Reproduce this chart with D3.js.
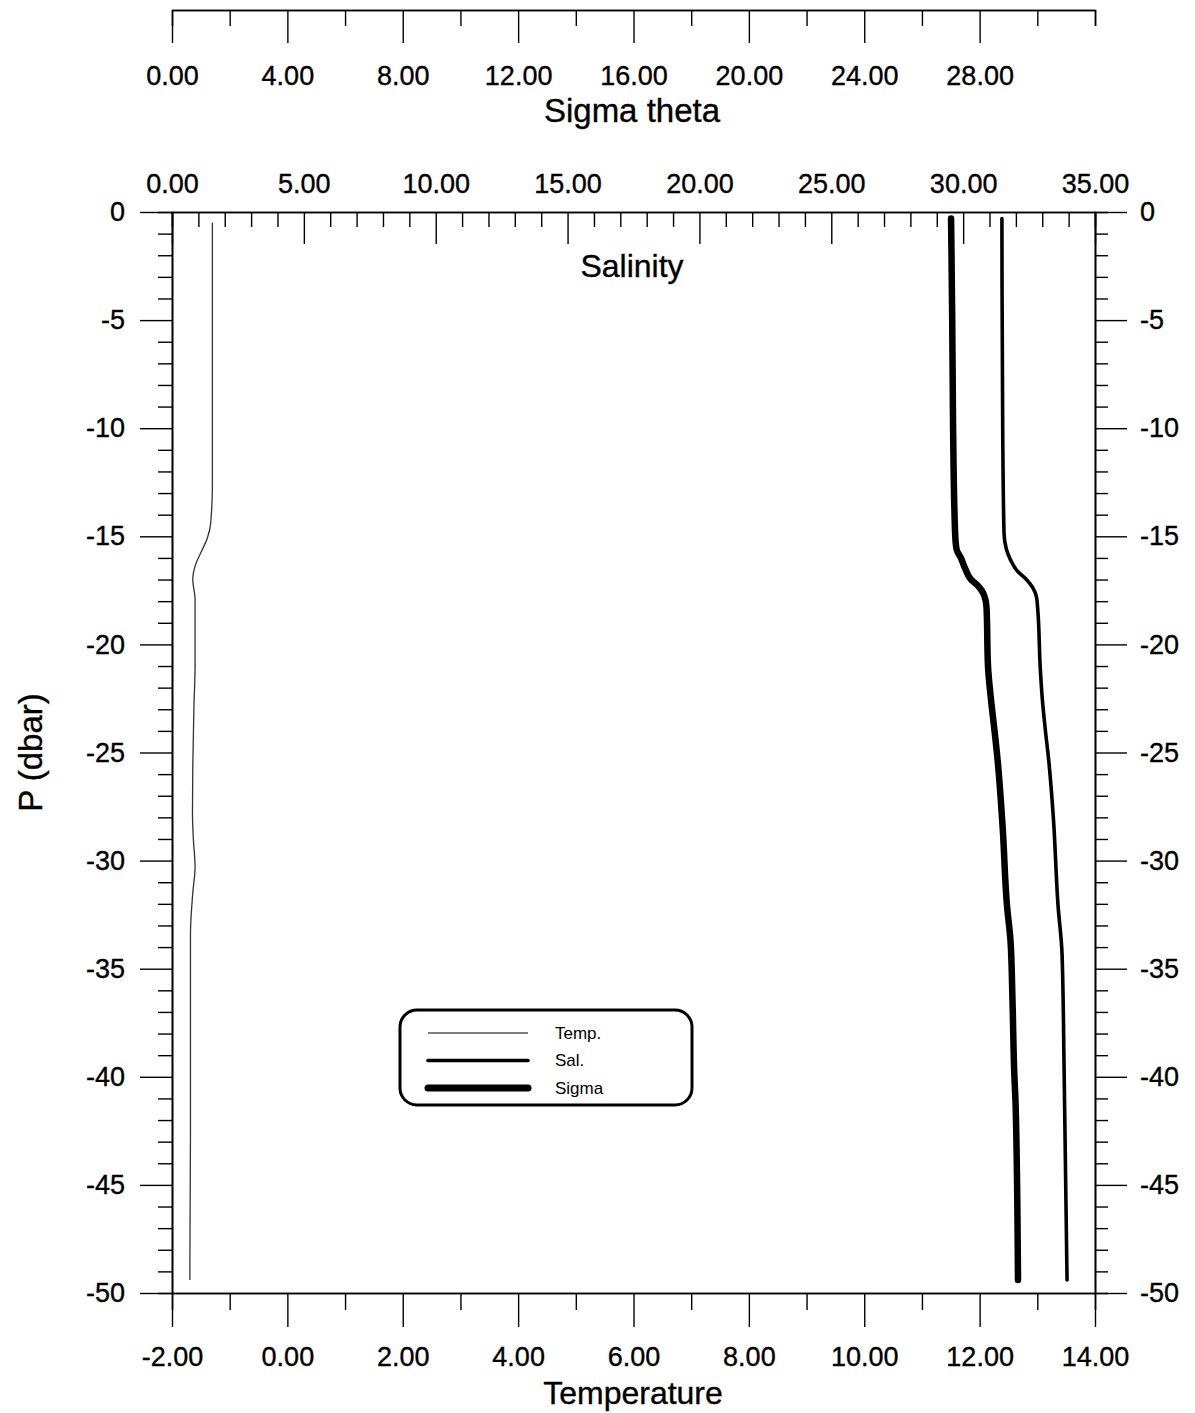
<!DOCTYPE html>
<html>
<head>
<meta charset="utf-8">
<script src="https://cdn.jsdelivr.net/npm/d3@7"></script>
<style>
  body { margin: 0; background: #fff; }
  svg { font-family: "Liberation Sans", Arial, sans-serif; }
  .axis path, .axis line { stroke: #000; }
  .axis text, .lbl { fill: #000; stroke: #000; stroke-width: 0.35px; }
</style>
</head>
<body>
<div id="chart"></div>
<script>
// profile data: pressure (dbar) and value
const tempP  = [-0.5, -12.6, -14.4, -15.1, -15.7, -16.3, -17.0, -17.9, -21.0, -22.9, -25.7, -27.8, -29.0, -30.3, -31.5, -33.4, -36.4, -42.6, -48.8, -49.4];
const tempV  = [-1.30, -1.30, -1.33, -1.39, -1.49, -1.59, -1.64, -1.60, -1.60, -1.62, -1.64, -1.645, -1.63, -1.60, -1.64, -1.68, -1.68, -1.68, -1.69, -1.69];

const salP   = [-0.3, -10, -14.85, -15.6, -16.1, -16.6, -17.0, -17.4, -17.8, -18.4, -21.0, -22.5, -24.0, -25.3, -28.0, -32.1, -34.3, -39.8, -49.4];
const salV   = [31.47, 31.50, 31.55, 31.64, 31.80, 32.05, 32.40, 32.65, 32.78, 32.83, 32.92, 33.00, 33.12, 33.24, 33.42, 33.60, 33.75, 33.83, 33.94];

const sigP   = [-0.3, -5, -10, -14.85, -15.6, -16.0, -16.5, -17.0, -17.3, -17.7, -18.3, -21.0, -22.5, -23.8, -25.3, -28.5, -32.1, -33.7, -36.5, -39.8, -41.4, -49.4];
const sigV   = [27.01, 27.05, 27.08, 27.15, 27.20, 27.35, 27.50, 27.70, 27.95, 28.15, 28.24, 28.29, 28.39, 28.50, 28.62, 28.80, 28.95, 29.07, 29.14, 29.20, 29.25, 29.33];

// axis ticks
const pMajor    = d3.range(0, -51, -5);
const pMinor    = d3.range(0, -51, -1).filter(v => v % 5 !== 0);
const tMajor    = d3.range(-2, 15, 2);
const tMinor    = d3.range(-1, 14, 2);
const sMajor    = d3.range(0, 36, 5);
const sMinor    = d3.range(0, 36, 1).filter(v => v % 5 !== 0);
const sigMajor  = d3.range(0, 29, 4);
const sigMinor  = [2, 6, 10, 14, 18, 22, 26, 30, 32];

const legendItems = ["Temp.", "Sal.", "Sigma"];

const W = 1195, H = 1413;
const plotL = 172, plotR = 1095, plotT = 212, plotB = 1293;

const svg = d3.select("#chart").append("svg")
    .attr("width", W).attr("height", H);

const y   = d3.scaleLinear([0, -50], [plotT, plotB]);
const xT  = d3.scaleLinear([-2, 14], [plotL, plotR]);
const xS  = d3.scaleLinear([0, 35], [plotL, plotR]);
const xSg = d3.scaleLinear([0, 32], [plotL, plotR]);

// plain hyphen for the minus sign, as in the original
const loc = d3.formatLocale({decimal: ".", thousands: ",", grouping: [3], currency: ["", ""], minus: "-"});
const fmt2 = loc.format(".2f");
const fmtI = loc.format("d");

function styleAxis(g, fs) {
    g.attr("class", "axis");
    g.selectAll("path").attr("stroke-width", 1.6);
    g.selectAll("line").attr("stroke-width", 1.4);
    g.selectAll("text").attr("font-size", fs).attr("font-family", null).attr("fill", null);
}

// sigma theta axis (detached, at the very top)
svg.append("g").attr("transform", "translate(0,10)")
    .call(d3.axisBottom(xSg).tickValues(sigMinor).tickSize(16).tickFormat(""))
    .call(g => styleAxis(g, 27));
svg.append("g").attr("transform", "translate(0,10)")
    .call(d3.axisBottom(xSg).tickValues(sigMajor).tickSize(33).tickSizeOuter(0).tickPadding(23).tickFormat(fmt2))
    .call(g => styleAxis(g, 27));
svg.append("text").attr("class", "lbl").attr("x", 632).attr("y", 122)
    .attr("text-anchor", "middle").attr("font-size", 33).text("Sigma theta");

// salinity axis on top of frame, ticks pointing in
svg.append("g").attr("transform", `translate(0,${plotT})`)
    .call(d3.axisTop(xS).tickValues(sMinor).tickSize(-15).tickFormat(""))
    .call(g => styleAxis(g, 27));
svg.append("g").attr("transform", `translate(0,${plotT})`)
    .call(d3.axisTop(xS).tickValues(sMajor).tickSizeInner(-32).tickSizeOuter(0).tickPadding(19).tickFormat(fmt2))
    .call(g => styleAxis(g, 27));
svg.append("text").attr("class", "lbl").attr("x", 632).attr("y", 277)
    .attr("text-anchor", "middle").attr("font-size", 32).text("Salinity");

// temperature axis at bottom
svg.append("g").attr("transform", `translate(0,${plotB})`)
    .call(d3.axisBottom(xT).tickValues(tMinor).tickSize(17).tickFormat(""))
    .call(g => styleAxis(g, 27));
svg.append("g").attr("transform", `translate(0,${plotB})`)
    .call(d3.axisBottom(xT).tickValues(tMajor).tickSize(34).tickSizeOuter(0).tickPadding(20).tickFormat(fmt2))
    .call(g => styleAxis(g, 27));
svg.append("text").attr("class", "lbl").attr("x", 633).attr("y", 1404)
    .attr("text-anchor", "middle").attr("font-size", 32).text("Temperature");

// pressure axes, left and right
svg.append("g").attr("transform", `translate(${plotL},0)`)
    .call(d3.axisLeft(y).tickValues(pMinor).tickSize(14).tickFormat(""))
    .call(g => styleAxis(g, 27));
svg.append("g").attr("transform", `translate(${plotL},0)`)
    .call(d3.axisLeft(y).tickValues(pMajor).tickSize(32).tickSizeOuter(0).tickPadding(15).tickFormat(fmtI))
    .call(g => styleAxis(g, 27));
svg.append("g").attr("transform", `translate(${plotR},0)`)
    .call(d3.axisRight(y).tickValues(pMinor).tickSize(13).tickFormat(""))
    .call(g => styleAxis(g, 27));
svg.append("g").attr("transform", `translate(${plotR},0)`)
    .call(d3.axisRight(y).tickValues(pMajor).tickSize(32).tickSizeOuter(0).tickPadding(13).tickFormat(fmtI))
    .call(g => styleAxis(g, 27));

svg.append("text").attr("class", "lbl")
    .attr("transform", `translate(42,${(plotT + plotB) / 2}) rotate(-90)`)
    .attr("text-anchor", "middle").attr("font-size", 33).text("P (dbar)");

// profiles
const line = (xs, P, V) => d3.line()
    .x((d, i) => xs(V[i]))
    .y(d => y(d))
    .curve(d3.curveMonotoneY)(P);

svg.append("path").attr("d", line(xT, tempP, tempV))
    .attr("fill", "none").attr("stroke", "#333").attr("stroke-width", 1.3);
svg.append("path").attr("d", line(xS, salP, salV))
    .attr("fill", "none").attr("stroke", "#000").attr("stroke-width", 3.6)
    .attr("stroke-linecap", "round").attr("stroke-linejoin", "round");
svg.append("path").attr("d", line(xSg, sigP, sigV))
    .attr("fill", "none").attr("stroke", "#000").attr("stroke-width", 6.5)
    .attr("stroke-linecap", "round").attr("stroke-linejoin", "round");

// legend
const lg = svg.append("g");
lg.append("rect").attr("x", 400).attr("y", 1010).attr("width", 292).attr("height", 95)
    .attr("rx", 17).attr("fill", "#fff").attr("stroke", "#000").attr("stroke-width", 3);
const lgWidths = [1.3, 3.6, 7];
const lgColors = ["#555", "#000", "#000"];
const lgY = d3.scalePoint(legendItems, [1033, 1088]);
legendItems.forEach((name, i) => {
    lg.append("line")
        .attr("x1", 428).attr("x2", 528)
        .attr("y1", lgY(name)).attr("y2", lgY(name))
        .attr("stroke", lgColors[i]).attr("stroke-width", lgWidths[i])
        .attr("stroke-linecap", i ? "round" : "butt");
    lg.append("text").attr("x", 555).attr("y", lgY(name))
        .attr("dy", "0.35em").attr("font-size", 17).text(name);
});
</script>
</body>
</html>
